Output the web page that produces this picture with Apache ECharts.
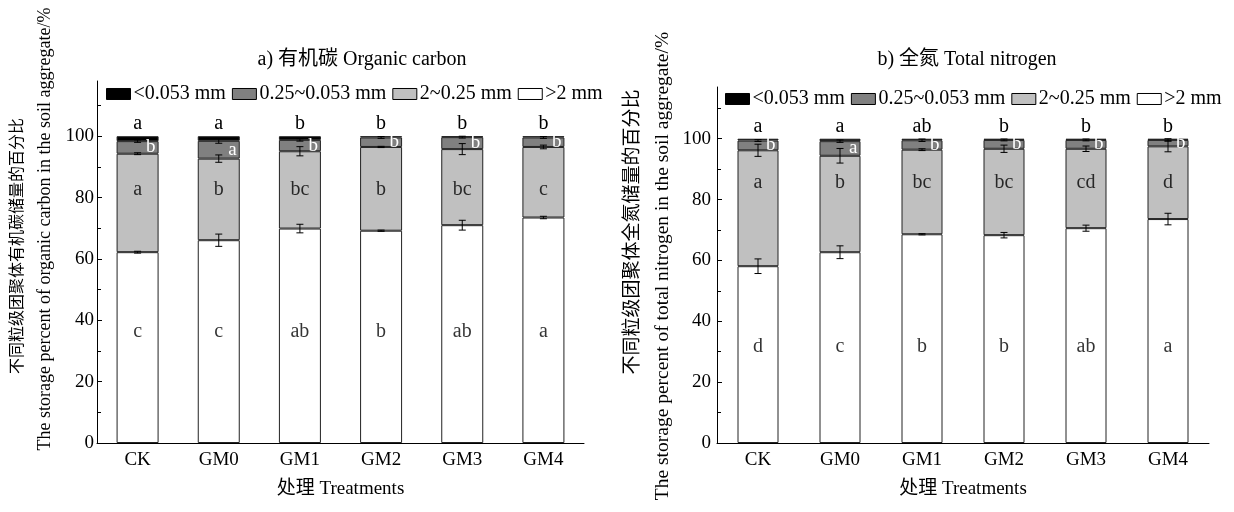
<!DOCTYPE html>
<html><head><meta charset="utf-8">
<script src="https://cdn.jsdelivr.net/npm/echarts@6/dist/echarts.min.js"></script>
<style>html,body{margin:0;padding:0;background:#fff}#c{width:1234px;height:512px}</style>
</head><body><div id="c"></div><script>
const categories = ['CK','GM0','GM1','GM2','GM3','GM4'];
const sizeClasses = ['<0.053 mm','0.25~0.053 mm','2~0.25 mm','>2 mm'];
const yTicks = [0,20,40,60,80,100];

// a) Organic carbon, % of storage by aggregate size class
const ocGt2  = [62.2,66.1,69.9,69.2,71.0,73.5];
const ocMid  = [32.1,26.6,25.2,27.3,24.8,23.0];
const ocFine = [4.1,5.8,3.7,3.1,3.9,3.1];
const ocSilt = [1.6,1.5,1.2,0.4,0.3,0.4];
const ocErrGt2  = [0.3,2.0,1.4,0.2,1.6,0.4];
const ocErrMid  = [0.3,1.2,1.5,0.2,1.8,0.6];
const ocErrFine = [0.4,0.8,0.4,0.3,0.3,0.3];
const ocLetTop  = ['a','a','b','b','b','b'];
const ocLetFine = ['b','a','b','b','b','b'];
const ocLetMid  = ['a','b','bc','b','bc','c'];
const ocLetGt2  = ['c','c','ab','b','ab','a'];

// b) Total nitrogen
const tnGt2  = [58.1,62.7,68.6,68.3,70.6,73.6];
const tnMid  = [38.1,31.7,27.8,28.4,26.1,23.9];
const tnFine = [3.2,4.8,3.1,2.9,2.9,2.1];
const tnSilt = [0.6,0.8,0.5,0.4,0.4,0.4];
const tnErrGt2  = [2.4,2.1,0.2,0.9,1.0,1.9];
const tnErrMid  = [2.0,2.4,0.3,1.2,0.9,1.8];
const tnErrFine = [0.3,0.4,0.4,0.3,0.3,0.4];
const tnLetTop  = ['a','a','ab','b','b','b'];
const tnLetFine = ['b','a','b','b','b','b'];
const tnLetMid  = ['a','b','bc','bc','cd','d'];
const tnLetGt2  = ['d','c','b','b','ab','a'];

const FONT = '"Liberation Serif","Noto Sans CJK SC",serif';
const colors = {'<0.053 mm':'#000000','0.25~0.053 mm':'#808080','2~0.25 mm':'#c0c0c0','>2 mm':'#ffffff'};

function axesFor(gi, max, labelMargin){
  const x = [{
    type:'category', gridIndex:gi, data:categories, boundaryGap:true,
    axisLine:{lineStyle:{color:'#000',width:1}},
    axisTick:{inside:true,length:5,lineStyle:{color:'#000'}},
    axisLabel:{color:'#000',fontSize:19,fontFamily:FONT,margin:8},
    name:'处理 Treatments', nameLocation:'middle', nameGap:37,
    nameTextStyle:{color:'#000',fontSize:19,fontFamily:FONT}
  },{
    type:'category', gridIndex:gi, data:categories, boundaryGap:true,
    axisLine:{show:false}, axisLabel:{show:false},
    axisTick:{inside:true,length:5,alignWithLabel:true,lineStyle:{color:'#000'}}
  }];
  const y = {
    type:'value', gridIndex:gi, min:0, max:max, interval:20,
    axisLine:{show:true,lineStyle:{color:'#000'}},
    axisTick:{show:true,inside:true,length:5,lineStyle:{color:'#000'},customValues:yTicks},
    minorTick:{show:true,splitNumber:2,length:4,lineStyle:{color:'#000'}},
    splitLine:{show:false},
    axisLabel:{color:'#000',fontSize:19,fontFamily:FONT,margin:labelMargin,customValues:yTicks}
  };
  return {x, y};
}

function seriesFor(gi, stack, barW, vals, errs, lets, midY, gt2Y){
  const xi = gi*2, yi = gi;
  const [gt2, mid, fine, silt] = vals;
  const base = {type:'bar', stack, xAxisIndex:xi, yAxisIndex:yi, barWidth:barW};
  const border = {borderColor:'#222',borderWidth:1};
  const s = [];
  s.push(Object.assign({}, base, {name:'>2 mm', data:gt2, itemStyle:Object.assign({color:colors['>2 mm']},border)}));
  s.push(Object.assign({}, base, {name:'2~0.25 mm', data:mid, itemStyle:Object.assign({color:colors['2~0.25 mm']},border)}));
  s.push(Object.assign({}, base, {name:'0.25~0.053 mm', data:fine, itemStyle:Object.assign({color:colors['0.25~0.053 mm']},border),
    label:{show:true,position:'insideRight',distance:3,color:'#fff',fontSize:19,fontFamily:FONT,
      formatter:p=>lets.fine[p.dataIndex]}}));
  s.push(Object.assign({}, base, {name:'<0.053 mm', data:silt, itemStyle:Object.assign({color:colors['<0.053 mm']},border),
    label:{show:true,position:'top',distance:2,color:'#000',fontSize:20,fontFamily:FONT,
      formatter:p=>lets.top[p.dataIndex]}}));
  // error bars at cumulative tops
  const errData = [];
  categories.forEach((c,i)=>{
    const t1 = gt2[i], t2 = t1+mid[i], t3 = t2+fine[i];
    errData.push([i,t1,errs[0][i]]);
    errData.push([i,t2,errs[1][i]]);
    errData.push([i,t3,errs[2][i]]);
  });
  s.push({type:'custom', xAxisIndex:xi, yAxisIndex:yi, z:10, silent:true, data:errData,
    renderItem:(params, api)=>{
      const x=api.value(0), v=api.value(1), e=api.value(2);
      const a=api.coord([x,v+e]), b=api.coord([x,v-e]);
      const hw=3.5, st={stroke:'#000',lineWidth:1};
      return {type:'group',children:[
        {type:'line',shape:{x1:a[0],y1:a[1],x2:b[0],y2:b[1]},style:st},
        {type:'line',shape:{x1:a[0]-hw,y1:a[1],x2:a[0]+hw,y2:a[1]},style:st},
        {type:'line',shape:{x1:b[0]-hw,y1:b[1],x2:b[0]+hw,y2:b[1]},style:st}
      ]};
    }});
  // letters inside light grey and white segments
  s.push({type:'scatter', xAxisIndex:xi, yAxisIndex:yi, symbolSize:0, silent:true, z:11,
    data:categories.map((c,i)=>[i,midY]),
    label:{show:true,position:'inside',color:'#000',fontSize:20,fontFamily:FONT,formatter:p=>lets.mid[p.dataIndex]}});
  s.push({type:'scatter', xAxisIndex:xi, yAxisIndex:yi, symbolSize:0, silent:true, z:11,
    data:categories.map((c,i)=>[i,gt2Y]),
    label:{show:true,position:'inside',color:'#000',fontSize:20,fontFamily:FONT,formatter:p=>lets.gt2[p.dataIndex]}});
  return s;
}

const A = axesFor(0, 118, 3);
const B = axesFor(1, 117, 6);

const legendBase = {data:sizeClasses, orient:'horizontal', itemWidth:24, itemHeight:11, itemGap:6,
  icon:'rect', selectedMode:false,
  textStyle:{color:'#000',fontSize:20,fontFamily:FONT,padding:[0,0,0,-2]},
  itemStyle:{borderColor:'#000',borderWidth:1}};

const option = {
  animation:false,
  backgroundColor:'#fff',
  grid:[{left:97,top:81,width:487,height:362},{left:717,top:87,width:492,height:356}],
  legend:[Object.assign({},legendBase,{left:101,top:79}),Object.assign({},legendBase,{left:720,top:84})],
  xAxis:[...A.x, ...B.x],
  yAxis:[A.y, B.y],
  series:[
    ...seriesFor(0,'oc',42,[ocGt2,ocMid,ocFine,ocSilt],[ocErrGt2,ocErrMid,ocErrFine],
      {top:ocLetTop,fine:ocLetFine,mid:ocLetMid,gt2:ocLetGt2},82.7,36.2),
    ...seriesFor(1,'tn',41,[tnGt2,tnMid,tnFine,tnSilt],[tnErrGt2,tnErrMid,tnErrFine],
      {top:tnLetTop,fine:tnLetFine,mid:tnLetMid,gt2:tnLetGt2},85.5,31.5)
  ],
  graphic:[
    {type:'text',x:362,y:60,style:{text:'a) 有机碳 Organic carbon',font:'20px '+FONT,fill:'#000',textAlign:'center',textVerticalAlign:'middle'}},
    {type:'text',x:967,y:60,style:{text:'b) 全氮 Total nitrogen',font:'20px '+FONT,fill:'#000',textAlign:'center',textVerticalAlign:'middle'}},
    {type:'text',x:18,y:246,rotation:Math.PI/2,style:{text:'不同粒级团聚体有机碳储量的百分比',font:'16px '+FONT,fill:'#000',textAlign:'center',textVerticalAlign:'middle'}},
    {type:'text',x:45,y:229,rotation:Math.PI/2,style:{text:'The storage percent of organic carbon in the soil aggregate/%',font:'18px '+FONT,fill:'#000',textAlign:'center',textVerticalAlign:'middle'}},
    {type:'text',x:633,y:232,rotation:Math.PI/2,style:{text:'不同粒级团聚体全氮储量的百分比',font:'19px '+FONT,fill:'#000',textAlign:'center',textVerticalAlign:'middle'}},
    {type:'text',x:663,y:266,rotation:Math.PI/2,style:{text:'The storage percent of total nitrogen in the soil aggregate/%',font:'19.5px '+FONT,fill:'#000',textAlign:'center',textVerticalAlign:'middle'}}
  ]
};
const chart = echarts.init(document.getElementById('c'),null,{renderer:'canvas'});
chart.setOption(option);
</script></body></html>
